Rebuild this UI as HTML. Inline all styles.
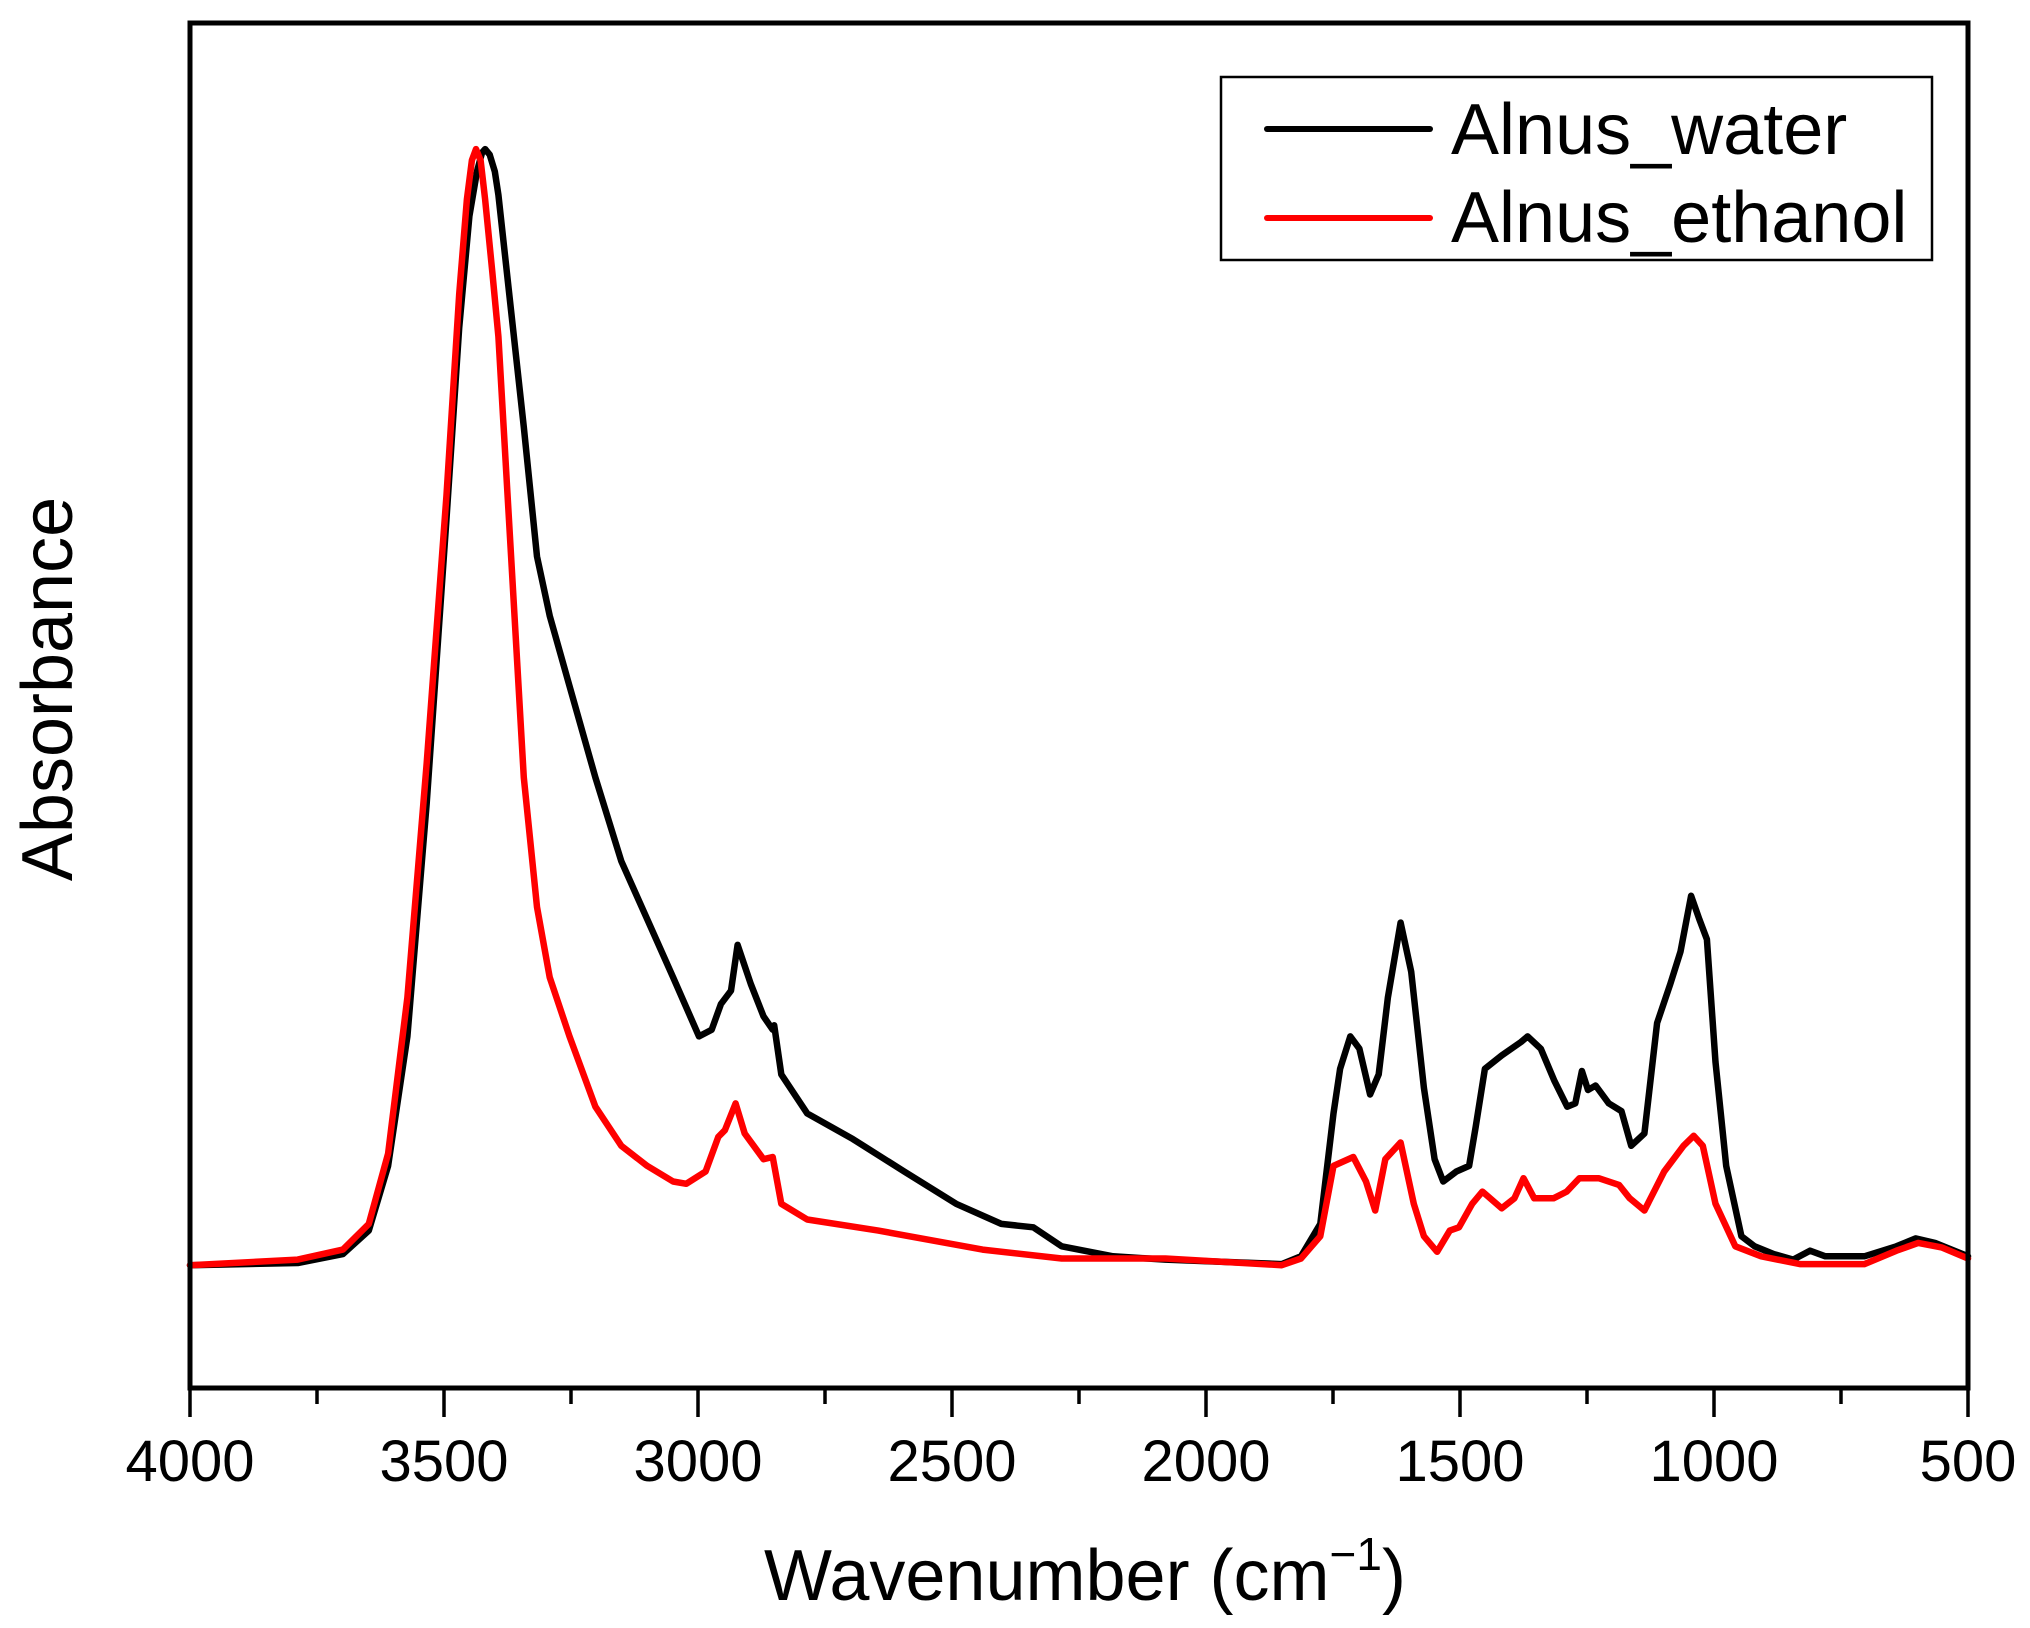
<!DOCTYPE html>
<html><head><meta charset="utf-8"><style>
html,body{margin:0;padding:0;background:#fff}
svg{display:block;font-family:"Liberation Sans",Arial,sans-serif}
</style></head><body>
<svg id="chart" width="2030" height="1628" viewBox="0 0 2030 1628">
<rect x="0" y="0" width="2030" height="1628" fill="#fff"/>
<g id="series"></g>
<g id="axes"></g>
<rect x="190" y="23" width="1778" height="1365" fill="none" stroke="#000" stroke-width="5"/>
<g>
<rect x="1221" y="77" width="711" height="183" fill="#fff" stroke="#000" stroke-width="2.5"/>
<line x1="1267" y1="129" x2="1430" y2="129" stroke="#000" stroke-width="6" stroke-linecap="round"/>
<text x="1451" y="154" font-size="72">Alnus_water</text>
<line x1="1267" y1="218" x2="1430" y2="218" stroke="#f00" stroke-width="6" stroke-linecap="round"/>
<text x="1451" y="242" font-size="72">Alnus_ethanol</text>
</g>
<text x="1085" y="1600" font-size="72" text-anchor="middle">Wavenumber (cm<tspan dy="-30" font-size="46">−1</tspan><tspan dy="30">)</tspan></text>
<text transform="translate(72,689) rotate(-90)" font-size="72" text-anchor="middle">Absorbance</text>
</svg>
<script>
const xTicks=[4000,3500,3000,2500,2000,1500,1000,500];
const xMinorTicks=[3750,3250,2750,2250,1750,1250,750];
const waterWn=[4000,3788,3699,3648,3610,3572,3534,3495,3470,3450,3435,3425,3419,3410,3400,3393,3368,3343,3317,3292,3253,3202,3151,3100,3049,2998,2973,2955,2935,2922,2896,2871,2853,2850,2836,2785,2695,2594,2492,2403,2340,2284,2183,2080,1851,1813,1775,1749,1736,1716,1698,1677,1660,1642,1617,1596,1571,1550,1533,1507,1482,1469,1451,1418,1380,1367,1341,1314,1289,1273,1260,1248,1233,1207,1182,1163,1137,1112,1086,1066,1045,1029,1014,997,976,946,920,882,844,811,781,704,641,603,565,500];
const waterAbs=[0,0.002,0.01,0.031,0.089,0.205,0.414,0.669,0.84,0.94,0.98,0.997,1.0,0.995,0.98,0.959,0.855,0.751,0.635,0.582,0.519,0.437,0.362,0.310,0.258,0.205,0.211,0.234,0.246,0.287,0.252,0.223,0.211,0.215,0.171,0.136,0.113,0.084,0.055,0.037,0.034,0.017,0.008,0.005,0.001,0.008,0.037,0.136,0.176,0.205,0.194,0.153,0.171,0.240,0.307,0.263,0.159,0.095,0.075,0.084,0.089,0.124,0.176,0.188,0.2,0.205,0.194,0.165,0.142,0.145,0.174,0.157,0.161,0.145,0.138,0.107,0.118,0.217,0.252,0.281,0.331,0.310,0.292,0.182,0.089,0.026,0.017,0.01,0.005,0.013,0.008,0.008,0.017,0.024,0.02,0.008];
const ethWn=[4000,3788,3699,3648,3610,3572,3534,3495,3470,3455,3445,3437,3428,3419,3405,3393,3368,3343,3317,3292,3253,3202,3151,3100,3049,3023,2985,2960,2947,2926,2908,2871,2853,2836,2785,2645,2440,2284,2080,1851,1813,1775,1749,1710,1685,1667,1647,1617,1591,1571,1545,1520,1502,1476,1456,1418,1393,1375,1354,1316,1290,1265,1227,1187,1166,1137,1098,1060,1040,1022,997,958,907,831,704,641,598,552,500];
const ethAbs=[0,0.005,0.014,0.037,0.1,0.24,0.45,0.69,0.87,0.955,0.99,1.0,0.99,0.955,0.89,0.832,0.635,0.437,0.321,0.258,0.205,0.142,0.107,0.089,0.075,0.073,0.084,0.115,0.121,0.145,0.118,0.095,0.097,0.055,0.041,0.031,0.014,0.006,0.006,0,0.006,0.026,0.089,0.097,0.075,0.049,0.095,0.110,0.055,0.026,0.012,0.031,0.034,0.055,0.066,0.051,0.06,0.078,0.06,0.06,0.066,0.078,0.078,0.072,0.06,0.049,0.084,0.107,0.116,0.107,0.055,0.017,0.008,0.001,0.001,0.013,0.02,0.016,0.006];
const NS='http://www.w3.org/2000/svg';
const X0=190,X1=1968,Y0=1388,Y1=23;
const yMin=-0.110,yMax=1.113;
function xs(w){return X0+(4000-w)/3500*(X1-X0);}
function ys(a){return Y0-(a-yMin)/(yMax-yMin)*(Y0-Y1);}
const axes=document.getElementById('axes');
xTicks.forEach(function(t){
  const l=document.createElementNS(NS,'line');
  l.setAttribute('x1',xs(t));l.setAttribute('x2',xs(t));l.setAttribute('y1',Y0);l.setAttribute('y2',Y0+29);
  l.setAttribute('stroke','#000');l.setAttribute('stroke-width','3.5');
  
  
  axes.appendChild(l);
  const tx=document.createElementNS(NS,'text');
  tx.setAttribute('x',xs(t));tx.setAttribute('y',1481);tx.setAttribute('font-size','58');tx.setAttribute('text-anchor','middle');
  tx.textContent=t;
  
  
  axes.appendChild(tx);
});
xMinorTicks.forEach(function(t){
  const l=document.createElementNS(NS,'line');
  l.setAttribute('x1',xs(t));l.setAttribute('x2',xs(t));l.setAttribute('y1',Y0);l.setAttribute('y2',Y0+16);
  l.setAttribute('stroke','#000');l.setAttribute('stroke-width','3.5');
  
  
  axes.appendChild(l);
});
const series=document.getElementById('series');
function draw(wn,ab,color,name){
  let d='';
  for(let i=0;i<wn.length;i++){d+=(i?'L':'M')+xs(wn[i]).toFixed(1)+','+ys(ab[i]).toFixed(1);}
  const p=document.createElementNS(NS,'path');
  p.setAttribute('d',d);p.setAttribute('fill','none');p.setAttribute('stroke',color);
  p.setAttribute('stroke-width','6.5');p.setAttribute('stroke-linejoin','round');p.setAttribute('stroke-linecap','round');
  
  
  series.appendChild(p);
}
draw(waterWn,waterAbs,'#000','alnus-water-line');
draw(ethWn,ethAbs,'#f00','alnus-ethanol-line');
</script>
</body></html>
